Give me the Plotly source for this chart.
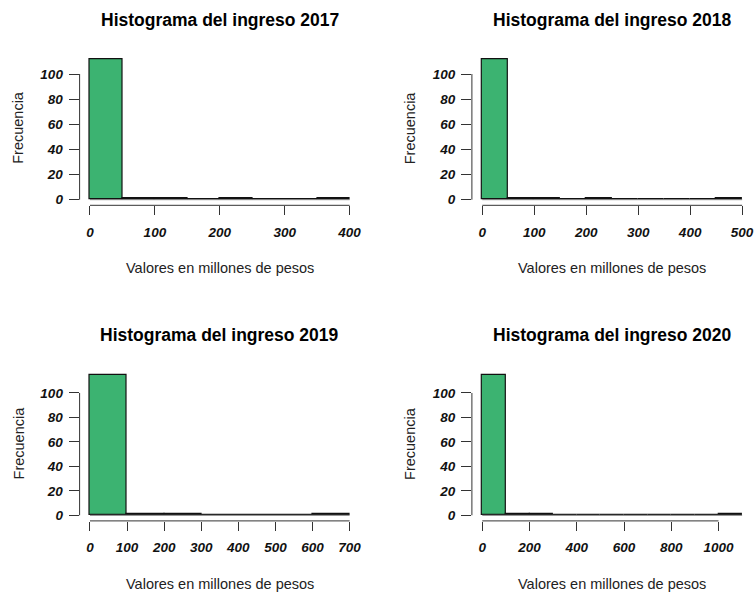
import plotly.graph_objects as go

# ---- data ----
years = [2017, 2018, 2019, 2020]
edges_2017 = [0, 50, 100, 150, 200, 250, 300, 350, 400]
counts_2017 = [112, 1, 1, 0, 1, 0, 0, 1]
edges_2018 = [0, 50, 100, 150, 200, 250, 300, 350, 400, 450, 500]
counts_2018 = [112, 1, 1, 0, 1, 0, 0, 0, 0, 1]
edges_2019 = [0, 100, 200, 300, 400, 500, 600, 700]
counts_2019 = [115, 1, 1, 0, 0, 0, 1]
edges_2020 = [0, 100, 200, 300, 400, 500, 600, 700, 800, 900, 1000, 1100]
counts_2020 = [115, 1, 1, 0, 0, 0, 0, 0, 0, 0, 1]
xticks_2017 = [0, 100, 200, 300, 400]
xticks_2018 = [0, 100, 200, 300, 400, 500]
xticks_2019 = [0, 100, 200, 300, 400, 500, 600, 700]
xticks_2020 = [0, 200, 400, 600, 800, 1000]
yticks = [0, 20, 40, 60, 80, 100]
title_prefix = "Histograma del ingreso "
xlabel = "Valores en millones de pesos"
ylabel = "Frecuencia"

edges_all = [edges_2017, edges_2018, edges_2019, edges_2020]
counts_all = [counts_2017, counts_2018, counts_2019, counts_2020]
xticks_all = [xticks_2017, xticks_2018, xticks_2019, xticks_2020]

W, H = 754, 598
BAR_COLOR = "#3CB371"
FONT = "Liberation Sans, Arial, sans-serif"


def px_x(p):
    return p / W


def px_y(p):
    return 1 - p / H


# plot regions in pixels: (left, right, top, bottom)
regions = [
    (79.6, 360.0, 53.3, 205.3),
    (471.9, 752.5, 53.3, 205.3),
    (79.6, 360.0, 369.0, 520.9),
    (471.9, 752.5, 369.0, 520.9),
]
title_y = [20, 20, 335, 335]
xlab_y = [268, 268, 584, 584]
ylab_x = [18.5, 410, 18.5, 410]

fig = go.Figure()
annotations = []
shapes = []

for i, (yr, edges, counts, xt) in enumerate(zip(years, edges_all, counts_all, xticks_all)):
    n = i + 1
    xa = "x" if n == 1 else f"x{n}"
    ya = "y" if n == 1 else f"y{n}"
    widths = [edges[k + 1] - edges[k] for k in range(len(counts))]

    # baseline for empty bins
    fig.add_trace(go.Scatter(
        x=[edges[0], edges[-1]], y=[0, 0], mode="lines",
        line=dict(color="#777777", width=1), xaxis=xa, yaxis=ya,
        showlegend=False, hoverinfo="skip"))
    fig.add_trace(go.Bar(
        x=edges[:-1], y=counts, width=widths, offset=0,
        marker=dict(color=BAR_COLOR, line=dict(color="#111111", width=1.2)),
        xaxis=xa, yaxis=ya, showlegend=False))

    l, r, t, b = regions[i]
    xmin, xmax = edges[0], edges[-1]
    xpad = 0.04 * (xmax - xmin)
    ymax = max(counts)
    ypad = 0.04 * ymax
    tickfont = dict(family=FONT, size=13.5, color="#111111", weight="bold", style="italic")
    xkey = "xaxis" if n == 1 else f"xaxis{n}"
    ykey = "yaxis" if n == 1 else f"yaxis{n}"
    fig.update_layout(**{
        xkey: dict(domain=[px_x(l), px_x(r)], anchor=ya, range=[xmin - xpad, xmax + xpad],
                   tickvals=xt, ticktext=[str(v) for v in xt], ticks="outside", ticklen=9,
                   tickwidth=1, tickcolor="#333333", showgrid=False, zeroline=False,
                   showline=False, tickfont=tickfont, fixedrange=True, automargin=False,
                   ticklabelstandoff=5),
        ykey: dict(domain=[px_y(b), px_y(t)], anchor=xa, range=[-ypad, ymax + ypad],
                   tickvals=yticks, ticktext=[str(v) for v in yticks], ticks="outside",
                   ticklen=10, tickwidth=1, tickcolor="#333333", showgrid=False,
                   zeroline=False, showline=False, tickfont=tickfont, fixedrange=True,
                   automargin=False, ticklabelstandoff=3),
    })

    # R-style axis lines spanning first to last tick
    shapes.append(dict(type="line", xref=xa, yref=f"{ya} domain",
                       x0=xt[0], x1=xt[-1], y0=0, y1=0,
                       line=dict(color="#333333", width=1)))
    shapes.append(dict(type="line", xref=f"{xa} domain", yref=ya,
                       x0=0, x1=0, y0=yticks[0], y1=yticks[-1],
                       line=dict(color="#333333", width=1)))

    cx = px_x((l + r) / 2)
    annotations.append(dict(text=f"<b>{title_prefix}{yr}</b>", x=cx, y=px_y(title_y[i]),
                            xref="paper", yref="paper", showarrow=False,
                            xanchor="center", yanchor="middle",
                            font=dict(family=FONT, size=17.5, color="#000000")))
    annotations.append(dict(text=xlabel, x=cx, y=px_y(xlab_y[i]),
                            xref="paper", yref="paper", showarrow=False,
                            xanchor="center", yanchor="middle",
                            font=dict(family=FONT, size=14.5, color="#222222")))
    annotations.append(dict(text=ylabel, x=px_x(ylab_x[i]), y=px_y((t + b) / 2 - 2),
                            xref="paper", yref="paper", showarrow=False, textangle=-90,
                            xanchor="center", yanchor="middle",
                            font=dict(family=FONT, size=14.5, color="#222222")))

fig.update_layout(
    width=W, height=H, margin=dict(l=0, r=0, t=0, b=0),
    paper_bgcolor="white", plot_bgcolor="white",
    annotations=annotations, shapes=shapes, bargap=0,
)

fig.write_html("out.html", config={"displayModeBar": False},
               post_script="document.body.style.margin='0';document.body.style.overflow='hidden';")
